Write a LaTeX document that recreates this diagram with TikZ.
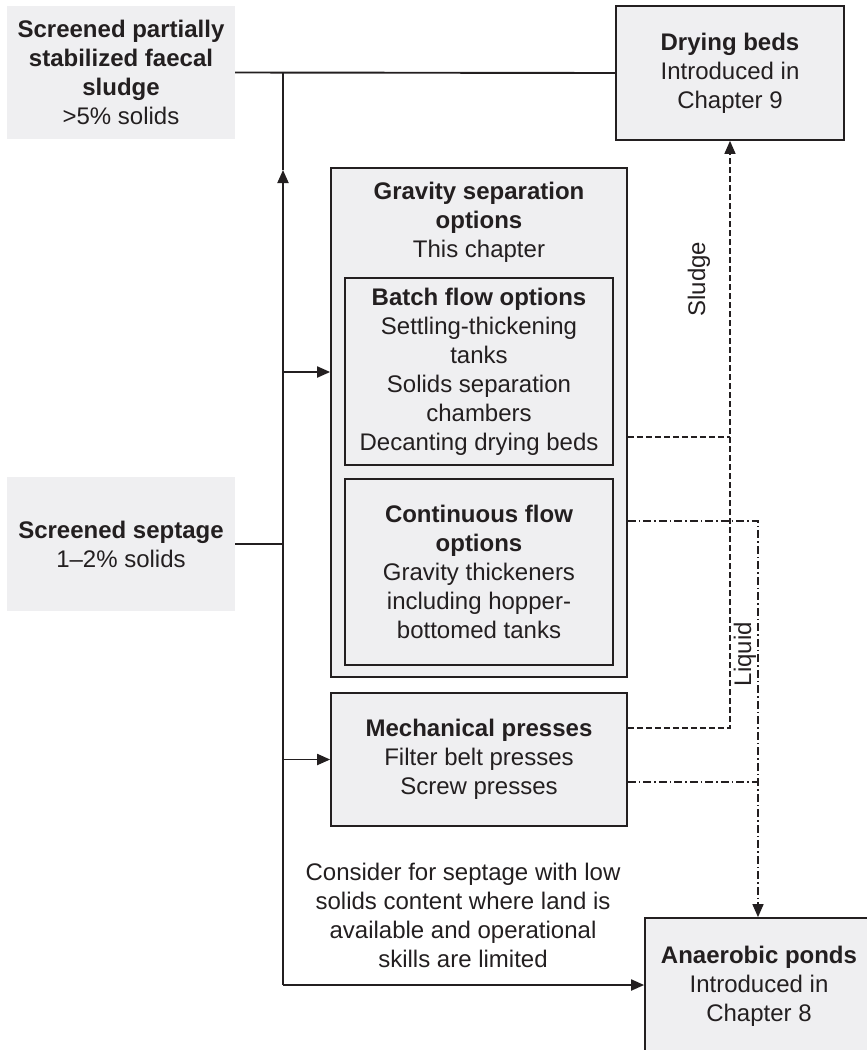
\documentclass[tikz,border=0pt]{standalone}
\usepackage{fontspec}
\setmainfont{Liberation Sans}
\usepackage{tikz}
\usetikzlibrary{arrows.meta, calc, positioning}
\usepackage{xcolor}
\definecolor{boxgray}{HTML}{EFEFF1}
\definecolor{ink}{HTML}{231F20}

\begin{document}
\begin{tikzpicture}[x=1pt, y=-1pt,
  font=\fontsize{24}{29}\selectfont, text=ink,
  box/.style={rectangle, draw=ink, line width=1.7pt, fill=boxgray, inner sep=0pt, align=center},
  plain/.style={rectangle, fill=boxgray, inner sep=0pt, align=center},
  flow/.style={draw=ink, line width=1.9pt},
  tip/.style={-{Triangle[length=13pt,width=11pt]}},
  sludgeline/.style={draw=ink, line width=1.4pt, dash pattern=on 6pt off 3pt},
  liquidline/.style={draw=ink, line width=1.4pt, dash pattern=on 8pt off 3pt on 1.5pt off 3pt}]
  \useasboundingbox (0,0) rectangle (867,1050);

  \node (Sludge) [plain, minimum width=228pt, minimum height=133pt] at (121,72.5)
    {\textbf{Screened partially}\\\textbf{stabilized faecal}\\\textbf{sludge}\\>5\% solids};
  \node (Septage) [plain, minimum width=228pt, minimum height=134pt] at (121,544)
    {\textbf{Screened septage}\\1–2\% solids};
  \node (Drying) [box, minimum width=228pt, minimum height=134pt] at (730,73)
    {\textbf{Drying beds}\\Introduced in\\Chapter 9};
  \node (Gravity) [box, minimum width=296pt, minimum height=509pt] at (479,422.5) {};
  \node (GravTitle) [align=center] at (479,222)
    {\textbf{Gravity separation}\\\textbf{options}\\This chapter};
  \node (Batch) [box, minimum width=268pt, minimum height=187pt] at (479,371.5)
    {\textbf{Batch flow options}\\Settling-thickening\\tanks\\Solids separation\\chambers\\Decanting drying beds};
  \node (Cont) [box, minimum width=268pt, minimum height=186pt] at (479,572)
    {\textbf{Continuous flow}\\\textbf{options}\\Gravity thickeners\\including hopper-\\bottomed tanks};
  \node (Mech) [box, minimum width=296pt, minimum height=133pt] at (479,759.5)
    {\textbf{Mechanical presses}\\Filter belt presses\\Screw presses};
  \node (Anaer) [box, minimum width=228pt, minimum height=136pt] at (759,986)
    {\textbf{Anaerobic ponds}\\Introduced in\\Chapter 8};
  \node (Note) [align=center] at (463,915)
    {Consider for septage with low\\solids content where land is\\available and operational\\skills are limited};
  \node (SludgeLbl) [rotate=90] at (699,279) {Sludge};
  \node (LiquidLbl) [rotate=90] at (745,654) {Liquid};

  \coordinate (TopJ) at (283,73);
  \coordinate (UpTip) at (283,170);
  \coordinate (SepJ) at (283,544);
  \coordinate (Corner) at (283,985);
  \path (Gravity.west) ++(0,-50.5) coordinate (GravIn);

  % solid feed lines
  \draw[flow] (Sludge.east) -- (Drying.west);
  \draw[flow] (Septage.east) -- (SepJ);
  \draw[flow, tip] (Corner) -- (UpTip);
  \draw[flow] (UpTip) -- (TopJ);
  \draw[flow, tip] (GravIn -| SepJ) -- (GravIn);
  \draw[flow, tip] (Mech.west -| SepJ) -- (Mech.west);
  \draw[flow, tip] (Corner) -- (Anaer.west |- Corner);

  % sludge and liquid returns
  \draw[sludgeline] (Gravity.east |- 0,437) -- (Drying.south |- 0,437);
  \draw[sludgeline, tip] (Mech.east |- 0,728) -| (Drying.south);
  \draw[liquidline, tip] (Gravity.east |- 0,521) -| (Anaer.north -| 758,0);
  \draw[liquidline] (Mech.east |- 0,782) -- (Anaer.north |- 758,782);
\end{tikzpicture}
\end{document}
